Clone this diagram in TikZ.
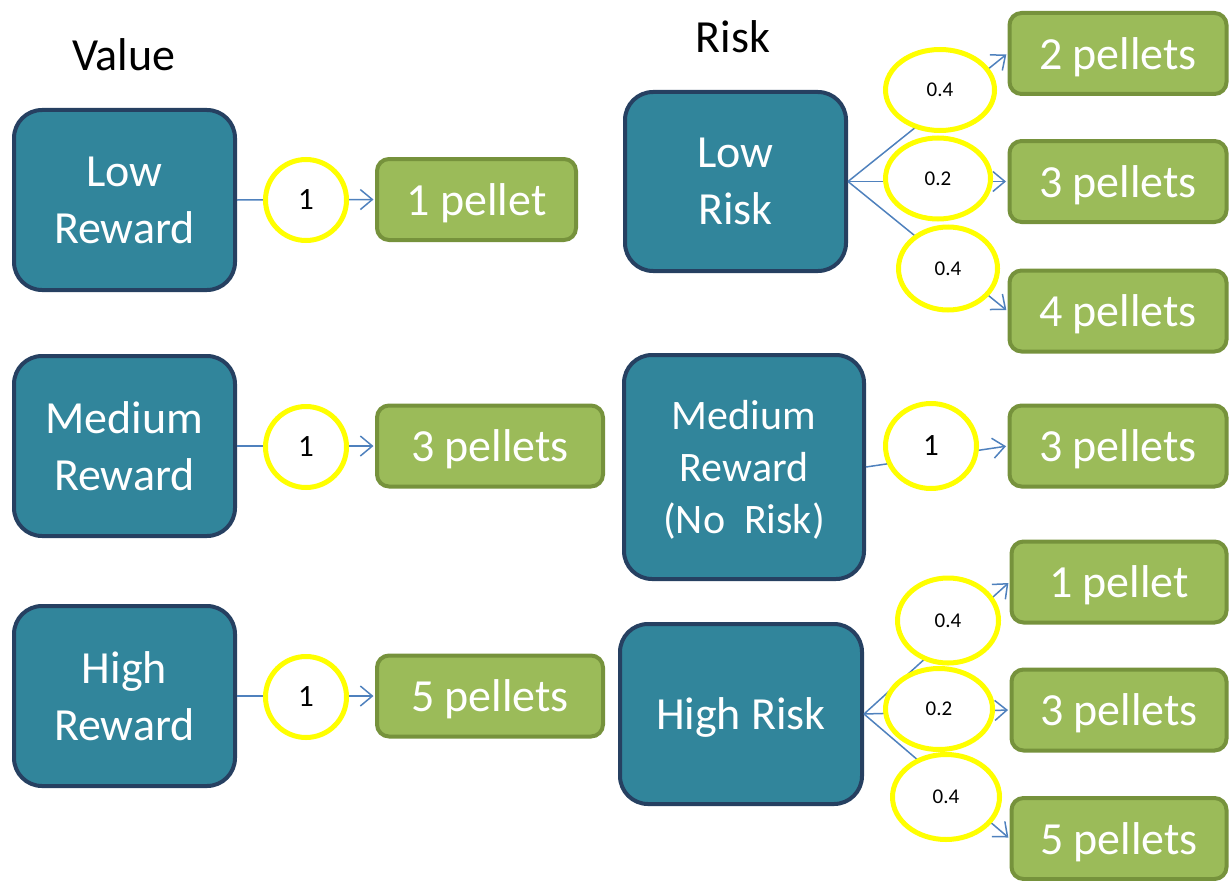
\documentclass[tikz,border=0pt]{standalone}
\usepackage{fontspec}
\setmainfont{Carlito}
\usetikzlibrary{shapes.geometric,arrows.meta}
\definecolor{tealfill}{RGB}{49,133,155}
\definecolor{tealedge}{RGB}{38,64,97}
\definecolor{greenfill}{RGB}{155,187,89}
\definecolor{greenedge}{RGB}{118,146,60}
\definecolor{connblue}{RGB}{79,129,189}
\definecolor{ringyellow}{RGB}{255,255,0}
\tikzset{
  choicebox/.style={draw=tealedge, fill=tealfill, line width=4pt, rounded corners=28pt,
    text=white, align=center, inner sep=0pt, text depth=0pt, font=\fontsize{46}{57}\selectfont},
  pelletbox/.style={draw=greenedge, fill=greenfill, line width=4pt, rounded corners=12pt,
    text=white, align=center, inner sep=0pt, text depth=0pt, minimum height=81pt, font=\fontsize{46}{57}\selectfont},
  probring/.style={ellipse, draw=ringyellow, fill=white, line width=5pt, inner sep=0pt,
    text=black},
  bigprob/.style={probring, font=\fontsize{31}{36}\selectfont},
  smallprob/.style={probring, font=\fontsize{21}{25}\selectfont},
  conn/.style={draw=connblue, line width=1.5pt, -{Straight Barb[length=12pt,width=20pt]}, shorten >=1.5pt},
  titletext/.style={inner sep=0pt, text=black, font=\fontsize{46}{57}\selectfont}
}
\begin{document}
\begin{tikzpicture}[x=1pt,y=-1pt]
\useasboundingbox (0,0) rectangle (1230,880);
% titles
\node[titletext] (tValue) at (124,55) {Value};
\node[titletext] (tRisk) at (733,37) {Risk};
% left choice boxes
\node[choicebox, minimum width=221pt, minimum height=180pt] (lowR) at (124.5,200) {Low\\Reward};
\node[choicebox, minimum width=221pt, minimum height=180pt] (medR) at (124.5,446) {Medium\\Reward};
\node[choicebox, minimum width=221pt, minimum height=180pt] (highR) at (124.5,696) {High\\Reward};
% right choice boxes
\node[choicebox, minimum width=221pt, minimum height=179pt] (lowRisk) at (735.5,181.5) {Low\\Risk};
\node[choicebox, minimum width=240pt, minimum height=224pt, font=\fontsize{42}{52}\selectfont] (medRisk) at (744,467) {Medium\\Reward\\(No\ \ Risk)};
\node[choicebox, minimum width=242pt, minimum height=180pt] (highRisk) at (741,714) {High Risk};
% left pellet boxes
\node[pelletbox, minimum width=199pt] (pA) at (476.5,199.5) {1 pellet};
\node[pelletbox, minimum width=226pt] (pB) at (490,446) {3 pellets};
\node[pelletbox, minimum width=226pt] (pC) at (490,696) {5 pellets};
% right pellet boxes
\node[pelletbox, minimum width=217pt] (rA) at (1118,53.5) {2 pellets};
\node[pelletbox, minimum width=217pt] (rB) at (1118,181.5) {3 pellets};
\node[pelletbox, minimum width=217pt] (rC) at (1118,311) {4 pellets};
\node[pelletbox, minimum width=217pt] (rD) at (1118,446) {3 pellets};
\node[pelletbox, minimum width=215pt] (rE) at (1119,582) {1 pellet};
\node[pelletbox, minimum width=215pt] (rF) at (1119,710) {3 pellets};
\node[pelletbox, minimum width=215pt] (rG) at (1119,838.5) {5 pellets};
% connectors
\draw[conn] (lowR.east) -- (pA.west);
\draw[conn] (medR.east) -- (pB.west);
\draw[conn] (highR.east) -- (pC.west);
\draw[conn] (lowRisk.east) -- (rA.west);
\draw[conn] (lowRisk.east) -- (rB.west);
\draw[conn] (lowRisk.east) -- (rC.west);
\draw[conn] (medRisk.east) -- (rD.west);
\draw[conn] (highRisk.east) -- (rE.west);
\draw[conn] (highRisk.east) -- (rF.west);
\draw[conn] (highRisk.east) -- (rG.west);
% probability rings
\node[bigprob, minimum width=81pt, minimum height=81pt] (cA) at (306,200) {1};
\node[bigprob, minimum width=81pt, minimum height=81pt] (cB) at (306,447) {1};
\node[bigprob, minimum width=81pt, minimum height=81pt] (cC) at (306,697) {1};
\node[smallprob, minimum width=109pt, minimum height=81pt] (e1) at (940,90) {0.4};
\node[smallprob, minimum width=105pt, minimum height=81pt] (e2) at (938,178.5) {0.2};
\node[smallprob, minimum width=99pt, minimum height=83pt] (e3) at (948,268.5) {0.4};
\node[bigprob, minimum width=91pt, minimum height=85pt] (em) at (931,446) {1};
\node[smallprob, minimum width=101pt, minimum height=85pt] (e4) at (948,620.5) {0.4};
\node[smallprob, minimum width=107pt, minimum height=81pt] (e5) at (939,709) {0.2};
\node[smallprob, minimum width=107pt, minimum height=85pt] (e6) at (946,797) {0.4};
\end{tikzpicture}
\end{document}
